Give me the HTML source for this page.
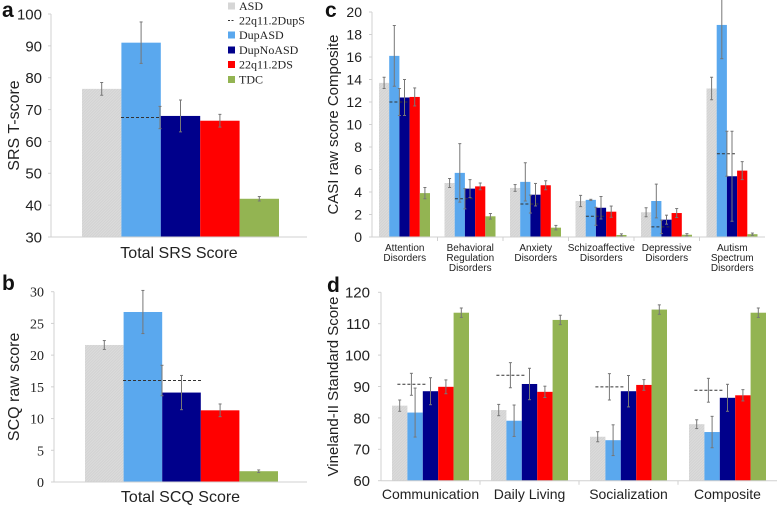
<!DOCTYPE html>
<html><head><meta charset="utf-8"><style>
html,body{margin:0;padding:0;background:#fff}
svg{display:block;font-family:"Liberation Sans",Arial,sans-serif}
</style></head><body>
<svg id="chart" width="778" height="505" viewBox="0 0 778 505" xmlns="http://www.w3.org/2000/svg">
<defs>
<pattern id="hatch" width="2" height="2" patternUnits="userSpaceOnUse" patternTransform="rotate(45)">
<rect width="2" height="2" fill="#dcdcdc"/><rect width="1" height="2" fill="#d2d2d2"/>
</pattern>
</defs>
</svg>
<script>
// ---- data ----
const groups = ["ASD","22q11.2DupS","DupASD","DupNoASD","22q11.2DS","TDC"];
const barGroups = ["ASD","DupASD","DupNoASD","22q11.2DS","TDC"];
// panel a
const srsVals = [76.5, 91, 68, 66.5, 42];
const srsErr = [2, 6.5, 5, 2, 0.7];
const srsDup = 67.5, srsDupErr = 3.5;
const srsTicks = [30,40,50,60,70,80,90,100];
// panel b
const scqVals = [21.6, 26.8, 14.1, 11.3, 1.7];
const scqErr = [0.7, 3.4, 2.7, 1, 0.2];
const scqDup = 16, scqDupErr = 2.4;
const scqTicks = [0,5,10,15,20,25,30];
// panel c
const casiCats = [["Attention","Disorders"],["Behavioral","Regulation","Disorders"],["Anxiety","Disorders"],["Schizoaffective","Disorders"],["Depressive","Disorders"],["Autism","Spectrum","Disorders"]];
const casiASD = [13.7, 4.8, 4.36, 3.2, 2.2, 13.2];
const casiDupASD = [16.1, 5.7, 4.9, 3.3, 3.2, 18.85];
const casiDupNoASD = [12.4, 4.3, 3.76, 2.6, 1.54, 5.4];
const casi22q = [12.45, 4.5, 4.6, 2.25, 2.13, 5.9];
const casiTDC = [3.9, 1.84, 0.83, 0.18, 0.2, 0.25];
const casiDupS = [12.0, 3.4, 2.93, 1.84, 0.9, 7.4];
const casiErrASD = [0.5, 0.4, 0.3, 0.5, 0.4, 1.0];
const casiErrDupASD = [2.7, 2.6, 1.7, 0.05, 1.5, 3.0];
const casiErrDupNoASD = [1.6, 0.8, 1.0, 1.0, 0.4, 4.0];
const casiErr22q = [0.8, 0.3, 0.4, 0.5, 0.4, 0.8];
const casiErrTDC = [0.5, 0.25, 0.2, 0.1, 0.1, 0.1];
const casiErrDupS = [1.2, 0.9, 0.8, 0.8, 0.6, 2.0];
const casiTicks = [0,2,4,6,8,10,12,14,16,18,20];
// panel d
const vinCats = ["Communication","Daily Living","Socialization","Composite"];
const vinASD = [83.9, 82.5, 74, 78];
const vinDupASD = [81.7, 79.1, 72.9, 75.5];
const vinDupNoASD = [88.5, 90.8, 88.5, 86.4];
const vin22q = [89.9, 88.3, 90.5, 87.2];
const vinTDC = [113.5, 111.2, 114.5, 113.5];
const vinDupS = [90.7, 93.6, 89.9, 88.8];
const vinErrASD = [1.8, 1.8, 1.6, 1.4];
const vinErrDupASD = [7.8, 5, 4.9, 5];
const vinErrDupNoASD = [4.3, 5, 5, 4.3];
const vinErr22q = [2.2, 1.8, 1.7, 1.8];
const vinErrTDC = [1.5, 1.5, 1.5, 1.5];
const vinErrDupS = [3.5, 4, 4.2, 3.8];
const vinTicks = [60,70,80,90,100,110,120];

const colors = ["url(#hatch)","#5aa8ee","#00008b","#ff0000","#93b452"];
const svg = document.getElementById('chart');
const NS = "http://www.w3.org/2000/svg";
function mk(tag, attrs, parent){const e=document.createElementNS(NS,tag);for(const k in attrs)e.setAttribute(k,attrs[k]);(parent||svg).appendChild(e);return e;}
function txt(s, attrs, parent){const e=mk('text',attrs,parent);e.textContent=s;return e;}
function errBar(g,x,v,err,y){
  const l=mk('line',{x1:x,x2:x,y1:y(v+err),y2:y(v-err),stroke:'#777','stroke-width':1},g);
  
  
  [v+err,v-err].forEach(t=>{const c=mk('line',{x1:x-1.5,x2:x+1.5,y1:y(t),y2:y(t),stroke:'#777','stroke-width':1},g);
    
    });
}
function axisY(g,ticks,y,x0,labelX,font,size){
  const ax=mk('line',{x1:x0,x2:x0,y1:y(ticks[ticks.length-1]),y2:y(ticks[0]),stroke:'#d0d0d0'},g);
  
  
  ticks.forEach(t=>{
    const tl=txt(String(t),{x:labelX,y:y(t)+size*0.36,'text-anchor':'end','font-size':size,'font-family':font,fill:'#222'},g);
    
    
    const tm=mk('line',{x1:x0-3,x2:x0,y1:y(t),y2:y(t),stroke:'#d0d0d0'},g);
    
    
  });
}
function yTitle(g,s,x,cy,size){
  const t=txt(s,{x:x,y:cy,'text-anchor':'middle','font-size':size,fill:'#222',transform:`rotate(-90 ${x} ${cy})`},g);
  
  
}
function letter(s,x,y){
  const t=txt(s,{x:x,y:y,'font-size':21,'font-weight':'bold',fill:'#111'});
  
  
}

function singlePanel(name,vals,errs,dup,dupErr,ticks,top,bottom,x0,xEnd,barX,barW,dashX1,dashX2,dashErrX,font,fsize,labX,ytitle,ytitleX,xtitle,xtitleY){
  const g=mk('g',{});
  
  
  const lo=ticks[0],hi=ticks[ticks.length-1];
  const y=v=>bottom-(v-lo)/(hi-lo)*(bottom-top);
  axisY(g,ticks,y,x0,labX,font,fsize);
  vals.forEach((v,i)=>{
    const r=mk('rect',{x:barX+i*barW,y:y(v),width:barW,height:y(lo)-y(v),fill:colors[i]},g);
    
    
  });
  const d=mk('line',{x1:dashX1,x2:dashX2,y1:y(dup),y2:y(dup),stroke:'#333','stroke-dasharray':'3,2','stroke-width':1},g);
  
  
  vals.forEach((v,i)=>errBar(g,barX+i*barW+barW/2,v,errs[i],y));
  errBar(g,dashErrX,dup,dupErr,y);
  const xa=mk('line',{x1:x0,x2:xEnd,y1:y(lo),y2:y(lo),stroke:'#d0d0d0'},g);
  
  
  yTitle(g,ytitle,ytitleX,(top+bottom)/2,16);
  const xt=txt(xtitle,{x:(x0+xEnd)/2,y:xtitleY,'text-anchor':'middle','font-size':16,fill:'#222'},g);
  
  
}
singlePanel('panel-a-srs',srsVals,srsErr,srsDup,srsDupErr,srsTicks,14,237,51,307,82,39.4,121,160,160,'Liberation Sans',15,42,'SRS T-score',19,'Total SRS Score',258);
singlePanel('panel-b-scq',scqVals,scqErr,scqDup,scqDupErr,scqTicks,291.7,482,54,307,85,38.6,123,203,162,'Liberation Serif',14,44,'SCQ raw score',19,'Total SCQ Score',502);

(function(){
  const g=mk('g',{});
  
  
  const rows=[6,20.5,35,50,64.5,79.5];
  const sw=["#d6d6d6",null,"#5aa8ee","#00008b","#ff0000","#93b452"];
  groups.forEach((n,i)=>{
    const e=mk('g',{},g);
    
    
    if(sw[i]) mk('rect',{x:228,y:rows[i]-3.5,width:7,height:7,fill:sw[i]},e);
    else mk('line',{x1:228,x2:235,y1:rows[i],y2:rows[i],stroke:'#333','stroke-dasharray':'2,1.5'},e);
    txt(n,{x:239,y:rows[i]+4,'font-size':12,'font-family':'Liberation Serif',fill:'#222'},e);
  });
})();

function groupPanel(name,cats,series,errs,dupS,dupErr,ticks,top,bottom,x0,xEnd,pad,barW,dashOffsetBar,dashShift,dashHalf,fsize,labX,ytitle,ytitleX,catSize,catY,catLine){
  const g=mk('g',{});
  
  
  const lo=ticks[0],hi=ticks[ticks.length-1];
  const y=v=>bottom-(v-lo)/(hi-lo)*(bottom-top);
  const gw=(xEnd-x0)/cats.length;
  axisY(g,ticks,y,x0,labX,'Liberation Sans',fsize);
  cats.forEach((c,ci)=>{
    const gx=x0+ci*gw+pad;
    series.forEach((s,si)=>{
      const r=mk('rect',{x:gx+si*barW,y:y(s[ci]),width:barW,height:y(lo)-y(s[ci]),fill:colors[si]},g);
      
      
    });
    const dx=gx+dashOffsetBar*barW+dashShift;
    const d=mk('line',{x1:dx-dashHalf,x2:dx+dashHalf,y1:y(dupS[ci]),y2:y(dupS[ci]),stroke:'#333','stroke-dasharray':'3,2'},g);
    
    
    series.forEach((s,si)=>errBar(g,gx+si*barW+barW/2,s[ci],errs[si][ci],y));
    errBar(g,dx,dupS[ci],dupErr[ci],y);
    const lines=Array.isArray(c)?c:[c];
    lines.forEach((ln,li)=>{
      const t=txt(ln,{x:x0+ci*gw+gw/2,y:catY+li*catLine,'text-anchor':'middle','font-size':catSize,fill:'#222'},g);
      
      
    });
    if(ci>0){const tk=mk('line',{x1:x0+ci*gw,x2:x0+ci*gw,y1:y(lo),y2:y(lo)+4,stroke:'#d0d0d0'},g);
      
      }
  });
  const xa=mk('line',{x1:x0,x2:xEnd,y1:y(lo),y2:y(lo),stroke:'#d0d0d0'},g);
  
  
  yTitle(g,ytitle,ytitleX,(top+bottom)/2,15);
}
groupPanel('panel-c-casi',casiCats,[casiASD,casiDupASD,casiDupNoASD,casi22q,casiTDC],
  [casiErrASD,casiErrDupASD,casiErrDupNoASD,casiErr22q,casiErrTDC],casiDupS,casiErrDupS,
  casiTicks,12,237,372,765,7,10.2,2,0,10,14,362,'CASI raw score Composite',338,10,251,10);
groupPanel('panel-d-vineland',vinCats,[vinASD,vinDupASD,vinDupNoASD,vin22q,vinTDC],
  [vinErrASD,vinErrDupASD,vinErrDupNoASD,vinErr22q,vinErrTDC],vinDupS,vinErrDupS,
  vinTicks,292.3,480.7,381,777,11,15.4,1,4,14,15,370,'Vineland-II Standard Score',338,14,499,0);

letter('a',2,17);letter('b',2,290);letter('c',325,17);letter('d',327,292);
</script>
</body></html>
